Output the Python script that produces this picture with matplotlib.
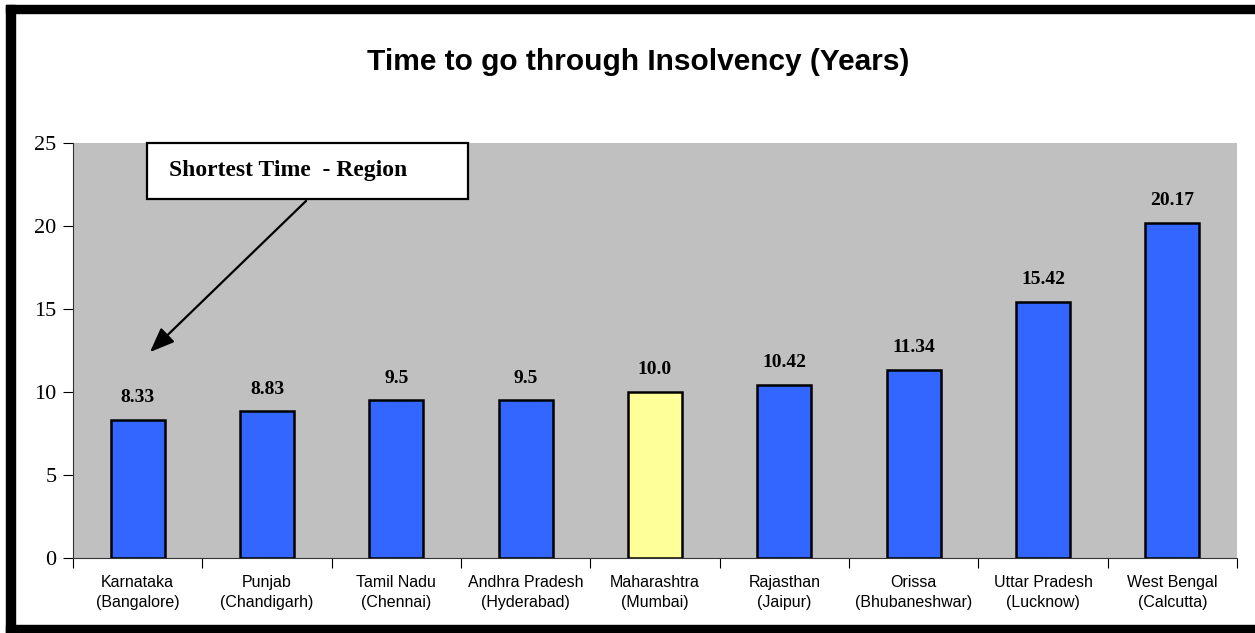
import matplotlib
matplotlib.use("Agg")
import matplotlib.pyplot as plt
from matplotlib.patches import Rectangle
import numpy as np

# data
states = ["Karnataka", "Punjab", "Tamil Nadu", "Andhra Pradesh", "Maharashtra",
          "Rajasthan", "Orissa", "Uttar Pradesh", "West Bengal"]
cities = ["Bangalore", "Chandigarh", "Chennai", "Hyderabad", "Mumbai",
          "Jaipur", "Bhubaneshwar", "Lucknow", "Calcutta"]
years = [8.33, 8.83, 9.5, 9.5, 10.0, 10.42, 11.34, 15.42, 20.17]
value_labels = ["8.33", "8.83", "9.5", "9.5", "10.0", "10.42", "11.34", "15.42", "20.17"]
highlight = "Maharashtra"

W, H = 1255, 633
fig = plt.figure(figsize=(W / 100, H / 100), dpi=100)
fig.patch.set_facecolor("white")

ax = fig.add_axes([73 / W, (H - 558) / H, (1237 - 73) / W, (558 - 143) / H])
ax.set_facecolor("#C0C0C0")

x = np.arange(len(states))
colors = ["#FFFF99" if s == highlight else "#3366FF" for s in states]
ax.bar(x, years, width=0.42, color=colors, edgecolor="black", linewidth=1.8, zorder=3)

for xi, v, lab in zip(x, years, value_labels):
    ax.annotate(lab, (xi, v), xytext=(0, 16), textcoords="offset points",
                ha="center", va="center", fontsize=14, fontweight="bold",
                family="Liberation Serif")

ax.set_xlim(-0.5, len(states) - 0.5)
ax.set_ylim(0, 25)
ax.set_yticks([0, 5, 10, 15, 20, 25])
ax.set_yticklabels(["0", "5", "10", "15", "20", "25"], family="Liberation Serif", fontsize=16)
ax.tick_params(axis="y", length=7, width=0.8, pad=5)

ax.set_xticks(x)
ax.set_xticklabels([f"{s}\n({c})" for s, c in zip(states, cities)],
                   family="Liberation Sans", fontsize=11.5, linespacing=1.45)
ax.tick_params(axis="x", which="major", length=0, pad=12)
ax.set_xticks(np.arange(-0.5, len(states)), minor=True)
ax.tick_params(axis="x", which="minor", length=7, width=0.8)

for side in ["top", "right"]:
    ax.spines[side].set_visible(False)
for side in ["left", "bottom"]:
    ax.spines[side].set_linewidth(0.8)
    ax.spines[side].set_color("#333333")

# callout box + arrow
ax.add_patch(Rectangle((0.072, 21.63), 2.555 - 0.072, 25 - 21.63, facecolor="white",
                       edgecolor="black", linewidth=1.6, zorder=5, clip_on=False))
ax.text(0.243, 23.37, "Shortest Time  - Region", ha="left", va="center", fontsize=17,
        fontweight="bold", family="Liberation Serif", zorder=6)
ax.annotate("", xy=(0.08, 12.29), xytext=(1.318, 21.63),
            arrowprops=dict(arrowstyle="-|>,head_length=1.5,head_width=0.6",
                            color="black", lw=1.6), zorder=6)

fig.text(638 / W, 1 - 62 / H, "Time to go through Insolvency (Years)", ha="center",
         va="center", fontsize=21.5, fontweight="bold", family="Liberation Sans")

# frame around chart (top, left, bottom)
fig.patches.append(Rectangle((6 / W, 1 - 13 / H), 1 - 6 / W, 8 / H,
                             transform=fig.transFigure, color="black", zorder=10))
fig.patches.append(Rectangle((6 / W, 0), 9 / W, 1 - 5 / H,
                             transform=fig.transFigure, color="black", zorder=10))
fig.patches.append(Rectangle((6 / W, 0), 1 - 6 / W, 8 / H,
                             transform=fig.transFigure, color="black", zorder=10))

fig.savefig("out.png", dpi=100)
